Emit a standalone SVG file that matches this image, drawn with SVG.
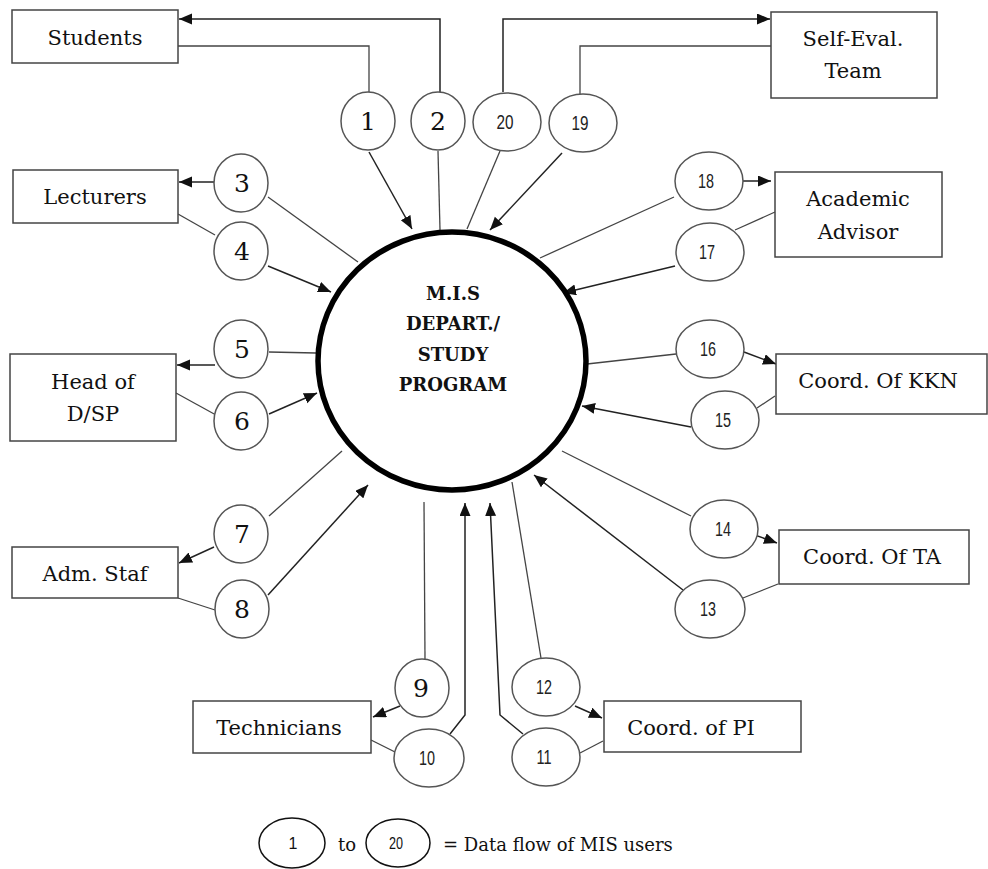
<svg xmlns="http://www.w3.org/2000/svg" width="988" height="869" viewBox="0 0 988 869">
<style>
.box{fill:#fff;stroke:#444;stroke-width:1.5}
.bub{fill:#fff;stroke:#555;stroke-width:1.5}
.lbl{font-family:"DejaVu Serif","Liberation Serif",serif;font-size:21px;fill:#111;text-anchor:middle}
.ns{font-family:"DejaVu Serif","Liberation Serif",serif;font-size:25px;fill:#111;text-anchor:middle}
.nn{font-family:"Liberation Sans",sans-serif;font-size:20px;fill:#222;text-anchor:middle}
.c{fill:none;stroke:#444;stroke-width:1.3}
.a{fill:none;stroke:#222;stroke-width:1.5;marker-end:url(#ah)}
.ctr{font-family:"DejaVu Serif","Liberation Serif",serif;font-size:18px;font-weight:bold;fill:#111;text-anchor:middle}
</style>
<defs>
<marker id="ah" markerUnits="userSpaceOnUse" markerWidth="14" markerHeight="12" refX="13" refY="5.5" orient="auto">
<path d="M0,0 L13,5.5 L0,11 z" fill="#111"/>
</marker>
</defs>
<rect width="988" height="869" fill="#fff"/>
<g id="connectors">
<path class="c" d="M178,46 H369 V92"/>
<path class="a" d="M369,152 L412,229"/>
<path class="c" d="M438,151 L440,230"/>
<path class="a" d="M440,92 V19 H179"/>
<path class="c" d="M500,151 L467,229"/>
<path class="a" d="M503,92 V19 H770"/>
<path class="c" d="M771,46 H580 V94"/>
<path class="a" d="M562,153 L490,230"/>
<path class="a" d="M214,182 H179"/>
<path class="c" d="M268,197 L358,262"/>
<path class="c" d="M178,214 L215,235"/>
<path class="a" d="M268,266 L331,292"/>
<path class="c" d="M269,352 L316,353"/>
<path class="a" d="M215,365 H177"/>
<path class="c" d="M176,393 L216,415"/>
<path class="a" d="M269,414 L317,393"/>
<path class="c" d="M269,516 L342,451"/>
<path class="a" d="M214,547 L179,563"/>
<path class="c" d="M178,598 L215,610"/>
<path class="a" d="M268,595 L368,485"/>
<path class="c" d="M424,502 L425,659"/>
<path class="a" d="M400,706 L373,717"/>
<path class="c" d="M371,740 L395,752"/>
<path class="a" d="M450,734 L465,715 V503"/>
<path class="a" d="M523,734 L500,715 L490,503"/>
<path class="c" d="M512,482 L541,658"/>
<path class="a" d="M575,706 L602,718"/>
<path class="c" d="M603,741 L580,753"/>
<path class="a" d="M683,590 L534,475"/>
<path class="c" d="M743,598 L778,584"/>
<path class="c" d="M562,451 L691,516"/>
<path class="a" d="M752,534 L777,543"/>
<path class="c" d="M775,396 L757,408"/>
<path class="a" d="M691,427 L582,406"/>
<path class="c" d="M587,364 L676,354"/>
<path class="a" d="M744,352 L776,364"/>
<path class="c" d="M775,212 L735,230"/>
<path class="a" d="M675,266 L563,293"/>
<path class="c" d="M540,258 L674,197"/>
<path class="a" d="M743,181 L771,181"/>
</g>
<g id="mis">
<ellipse cx="452" cy="361" rx="134" ry="129" fill="none" stroke="#000" stroke-width="5.5"/>
<text class="ctr" x="453" y="300">M.I.S</text>
<text class="ctr" x="453" y="330">DEPART./</text>
<text class="ctr" x="453" y="361">STUDY</text>
<text class="ctr" x="453" y="391">PROGRAM</text>
</g>
<g id="students"><rect class="box" x="12" y="10" width="166" height="53"/><text class="lbl" x="95" y="45">Students</text></g>
<g id="lecturers"><rect class="box" x="13" y="170" width="165" height="53"/><text class="lbl" x="95" y="204">Lecturers</text></g>
<g id="head"><rect class="box" x="10" y="354" width="166" height="87"/><text class="lbl" x="93" y="389">Head of</text><text class="lbl" x="93" y="421">D/SP</text></g>
<g id="adm"><rect class="box" x="12" y="547" width="166" height="51"/><text class="lbl" x="95" y="581">Adm. Staf</text></g>
<g id="selfeval"><rect class="box" x="771" y="12" width="166" height="86"/><text class="lbl" x="853" y="46">Self-Eval.</text><text class="lbl" x="853" y="78">Team</text></g>
<g id="advisor"><rect class="box" x="775" y="172" width="167" height="85"/><text class="lbl" x="858" y="206">Academic</text><text class="lbl" x="858" y="239">Advisor</text></g>
<g id="kkn"><rect class="box" x="776" y="354" width="211" height="60"/><text class="lbl" x="878" y="388">Coord. Of KKN</text></g>
<g id="ta"><rect class="box" x="779" y="530" width="190" height="54"/><text class="lbl" x="872" y="564">Coord. Of TA</text></g>
<g id="technicians"><rect class="box" x="193" y="701" width="178" height="52"/><text class="lbl" x="279" y="735">Technicians</text></g>
<g id="pi"><rect class="box" x="604" y="701" width="197" height="51"/><text class="lbl" x="691" y="735">Coord. of PI</text></g>
<g id="f1"><ellipse class="bub" cx="368" cy="121" rx="27" ry="29"/><text class="ns" x="368" y="130">1</text></g>
<g id="f2"><ellipse class="bub" cx="438" cy="121" rx="27" ry="29"/><text class="ns" x="438" y="130">2</text></g>
<g id="f20"><ellipse class="bub" cx="507" cy="122" rx="34" ry="29"/><text class="nn" x="505" y="129" textLength="17" lengthAdjust="spacingAndGlyphs">20</text></g>
<g id="f19"><ellipse class="bub" cx="583" cy="123" rx="34" ry="29"/><text class="nn" x="580" y="130" textLength="17" lengthAdjust="spacingAndGlyphs">19</text></g>
<g id="f3"><ellipse class="bub" cx="241" cy="183" rx="27" ry="29"/><text class="ns" x="242" y="192">3</text></g>
<g id="f4"><ellipse class="bub" cx="241" cy="251" rx="27" ry="29"/><text class="ns" x="242" y="260">4</text></g>
<g id="f5"><ellipse class="bub" cx="241" cy="349" rx="27" ry="29"/><text class="ns" x="242" y="358">5</text></g>
<g id="f6"><ellipse class="bub" cx="241" cy="421" rx="27" ry="29"/><text class="ns" x="242" y="430">6</text></g>
<g id="f7"><ellipse class="bub" cx="241" cy="534" rx="27" ry="29"/><text class="ns" x="242" y="543">7</text></g>
<g id="f8"><ellipse class="bub" cx="242" cy="609" rx="27" ry="29"/><text class="ns" x="242" y="618">8</text></g>
<g id="f9"><ellipse class="bub" cx="422" cy="688" rx="27" ry="29"/><text class="ns" x="421" y="697">9</text></g>
<g id="f10"><ellipse class="bub" cx="429" cy="758" rx="35" ry="29"/><text class="nn" x="427" y="765" textLength="16" lengthAdjust="spacingAndGlyphs">10</text></g>
<g id="f11"><ellipse class="bub" cx="546" cy="757" rx="34" ry="29"/><text class="nn" x="544" y="764" textLength="15" lengthAdjust="spacingAndGlyphs">11</text></g>
<g id="f12"><ellipse class="bub" cx="546" cy="687" rx="34" ry="29"/><text class="nn" x="544" y="694" textLength="16" lengthAdjust="spacingAndGlyphs">12</text></g>
<g id="f13"><ellipse class="bub" cx="710" cy="609" rx="35" ry="29"/><text class="nn" x="708" y="616" textLength="16" lengthAdjust="spacingAndGlyphs">13</text></g>
<g id="f14"><ellipse class="bub" cx="724" cy="529" rx="34" ry="29"/><text class="nn" x="723" y="536" textLength="16" lengthAdjust="spacingAndGlyphs">14</text></g>
<g id="f15"><ellipse class="bub" cx="725" cy="420" rx="34" ry="29"/><text class="nn" x="723" y="427" textLength="16" lengthAdjust="spacingAndGlyphs">15</text></g>
<g id="f16"><ellipse class="bub" cx="710" cy="349" rx="34" ry="29"/><text class="nn" x="708" y="356" textLength="16" lengthAdjust="spacingAndGlyphs">16</text></g>
<g id="f17"><ellipse class="bub" cx="710" cy="252" rx="34" ry="29"/><text class="nn" x="707" y="259" textLength="16" lengthAdjust="spacingAndGlyphs">17</text></g>
<g id="f18"><ellipse class="bub" cx="709" cy="181" rx="34" ry="29"/><text class="nn" x="706" y="188" textLength="16" lengthAdjust="spacingAndGlyphs">18</text></g>
<g id="legend">
<ellipse cx="292" cy="843" rx="33" ry="25" fill="#fff" stroke="#111" stroke-width="1.5"/>
<text x="293" y="849" font-family="Liberation Sans, sans-serif" font-size="16" text-anchor="middle" fill="#111">1</text>
<text x="347" y="851" font-family="DejaVu Serif, Liberation Serif, serif" font-size="18" text-anchor="middle" fill="#111">to</text>
<ellipse cx="398" cy="843" rx="32" ry="24" fill="#fff" stroke="#111" stroke-width="1.5"/>
<text x="396" y="849" font-family="Liberation Sans, sans-serif" font-size="16" text-anchor="middle" fill="#111" textLength="14" lengthAdjust="spacingAndGlyphs">20</text>
<text x="443" y="851" font-family="DejaVu Serif, Liberation Serif, serif" font-size="18" fill="#111">= Data flow of MIS users</text>
</g>
</svg>
